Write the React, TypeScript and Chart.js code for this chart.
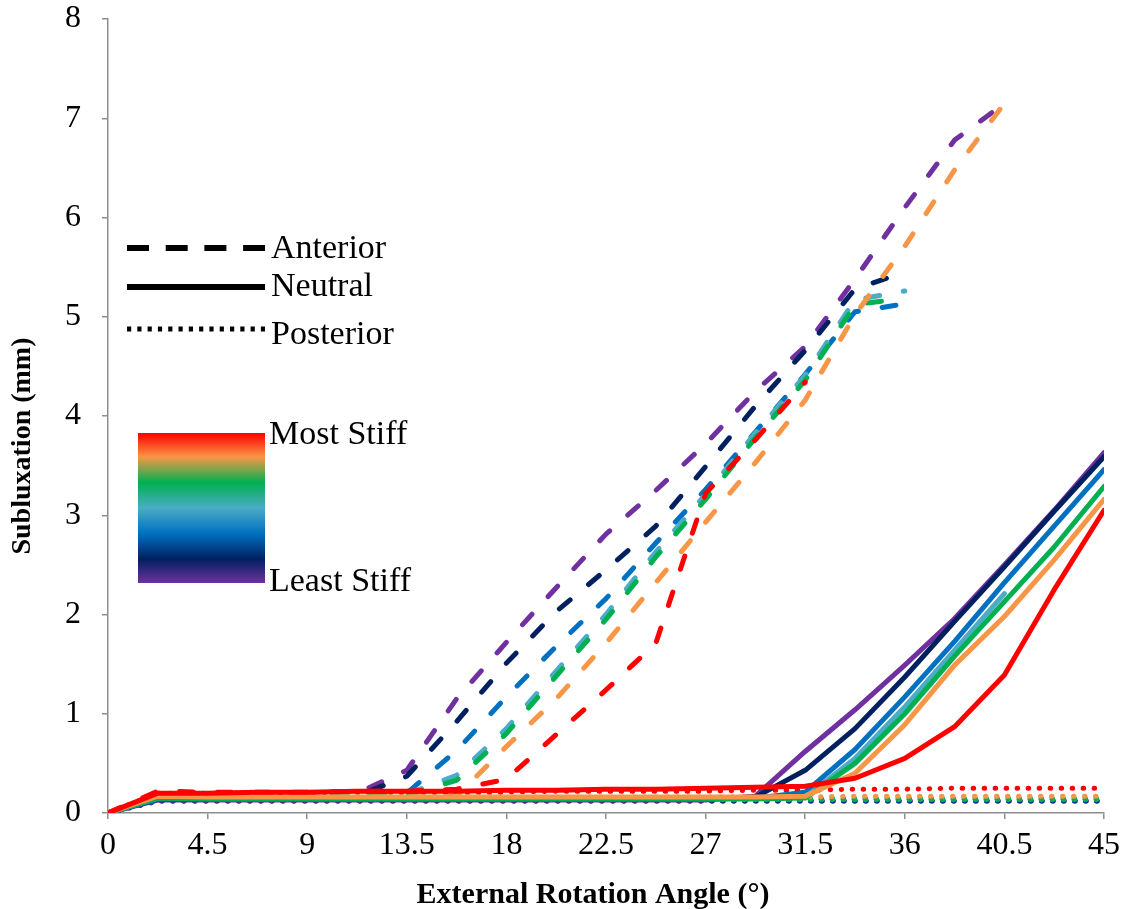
import React, { useEffect, useRef } from 'react';
import { Chart, registerables } from 'chart.js';

Chart.register(...registerables);

// ---------- data ----------
const ANGLES = [0, 2.25, 4.5, 6.75, 9, 11.25, 13.5, 15.75, 18, 20.25, 22.5, 24.75, 27, 29.25, 31.5, 33.75, 36, 38.25, 40.5, 42.75, 45];
const X_TICKS = [0, 4.5, 9, 13.5, 18, 22.5, 27, 31.5, 36, 40.5, 45];
const Y_TICKS = [0, 1, 2, 3, 4, 5, 6, 7, 8];

const STIFFNESS_NAMES = ['Red', 'Orange', 'Green', 'Teal', 'Blue', 'Navy', 'Purple'];
const COLORS = ['#FF0000', '#F79646', '#00B050', '#4BACC6', '#0070C0', '#002060', '#7030A0'];

// Neutral (solid)
const NEUTRAL_RED = [0, 0.20, 0.20, 0.21, 0.21, 0.22, 0.22, 0.22, 0.23, 0.23, 0.24, 0.24, 0.25, 0.26, 0.27, 0.35, 0.55, 0.87, 1.39, 2.25, 3.05];
const NEUTRAL_ORANGE = [0, 0.17, 0.16, 0.16, 0.16, 0.16, 0.16, 0.16, 0.16, 0.16, 0.16, 0.16, 0.16, 0.16, 0.17, 0.40, 0.89, 1.49, 1.98, 2.55, 3.16];
const NEUTRAL_GREEN = [0, 0.15, 0.14, 0.14, 0.14, 0.14, 0.14, 0.14, 0.14, 0.14, 0.14, 0.14, 0.14, 0.14, 0.15, 0.50, 1.00, 1.58, 2.13, 2.68, 3.29];
const NEUTRAL_TEAL = [0, 0.15, 0.15, 0.15, 0.15, 0.15, 0.15, 0.15, 0.15, 0.15, 0.15, 0.15, 0.15, 0.15, 0.16, 0.55, 1.07, 1.64, 2.21, null, null];
const NEUTRAL_BLUE = [0, 0.14, 0.14, 0.14, 0.14, 0.14, 0.14, 0.14, 0.14, 0.14, 0.14, 0.14, 0.14, 0.15, 0.21, 0.64, 1.17, 1.73, 2.32, 2.89, 3.46];
const NEUTRAL_NAVY = [0, 0.14, 0.14, 0.14, 0.14, 0.14, 0.14, 0.14, 0.14, 0.14, 0.14, 0.14, 0.14, 0.16, 0.43, 0.85, 1.37, 1.93, 2.48, 3.04, 3.59];
const NEUTRAL_PURPLE = [0, 0.13, 0.13, 0.13, 0.13, 0.13, 0.13, 0.13, 0.13, 0.13, 0.13, 0.13, 0.13, 0.17, 0.62, 1.04, 1.49, 1.96, 2.50, 3.05, 3.63];

// Anterior (dashed)
const ANTERIOR_RED = [0, 0.22, 0.21, 0.21, 0.21, 0.22, 0.22, 0.24, 0.34, 0.79, 1.24, 1.71, 3.22, 3.76, 4.34, null, null, null, null, null, null];
const ANTERIOR_ORANGE = [0, 0.17, 0.16, 0.16, 0.16, 0.16, 0.16, 0.17, 0.67, 1.15, 1.71, 2.32, 2.93, 3.53, 4.16, 5.02, 5.71, 6.48, 7.15, null, null];
const ANTERIOR_GREEN = [0, 0.18, 0.18, 0.18, 0.18, 0.18, 0.18, 0.33, 0.80, 1.38, 1.95, 2.58, 3.16, 3.78, 4.36, 5.12, 5.19, null, null, null, null];
const ANTERIOR_TEAL = [0, 0.19, 0.19, 0.19, 0.19, 0.19, 0.19, 0.38, 0.85, 1.43, 2.00, 2.63, 3.21, 3.83, 4.41, 5.17, 5.26, null, null, null, null];
const ANTERIOR_BLUE = [0, 0.18, 0.18, 0.18, 0.18, 0.18, 0.20, 0.63, 1.17, 1.68, 2.16, 2.72, 3.26, 3.84, 4.42, 5.05, 5.13, null, null, null, null];
const ANTERIOR_NAVY = [0, 0.17, 0.17, 0.17, 0.17, 0.17, 0.37, 0.92, 1.51, 2.03, 2.45, 2.89, 3.49, 4.10, 4.66, 5.28, 5.45, null, null, null, null];
const ANTERIOR_PURPLE = [0, 0.20, 0.20, 0.20, 0.20, 0.20, 0.43, 1.15, 1.72, 2.27, 2.81, 3.25, 3.72, 4.25, 4.70, 5.38, 6.10, 6.78, 7.15, null, null];

// Posterior (dotted)
const POSTERIOR_RED = [0, 0.20, 0.20, 0.20, 0.20, 0.21, 0.21, 0.21, 0.21, 0.22, 0.22, 0.22, 0.22, 0.23, 0.23, 0.24, 0.24, 0.25, 0.25, 0.25, 0.25];
const POSTERIOR_ORANGE = [0, 0.16, 0.16, 0.16, 0.16, 0.16, 0.16, 0.16, 0.16, 0.16, 0.16, 0.16, 0.16, 0.16, 0.16, 0.17, 0.17, 0.17, 0.17, 0.17, 0.17];
const POSTERIOR_GREEN = [0, 0.14, 0.14, 0.14, 0.14, 0.14, 0.14, 0.14, 0.14, 0.14, 0.14, 0.14, 0.14, 0.14, 0.14, 0.14, 0.14, 0.14, 0.14, 0.14, 0.14];
const POSTERIOR_TEAL = [0, 0.14, 0.14, 0.14, 0.14, 0.14, 0.14, 0.14, 0.14, 0.14, 0.14, 0.14, 0.14, 0.14, 0.14, 0.14, 0.14, 0.14, 0.14, 0.14, 0.14];
const POSTERIOR_BLUE = [0, 0.13, 0.13, 0.13, 0.13, 0.13, 0.13, 0.13, 0.13, 0.13, 0.13, 0.13, 0.13, 0.13, 0.13, 0.13, 0.13, 0.13, 0.13, 0.13, 0.13];
const POSTERIOR_NAVY = [0, 0.12, 0.12, 0.12, 0.12, 0.12, 0.12, 0.12, 0.12, 0.12, 0.12, 0.12, 0.12, 0.12, 0.12, 0.12, 0.12, 0.12, 0.12, 0.12, 0.12];
const POSTERIOR_PURPLE = [0, 0.12, 0.12, 0.12, 0.12, 0.12, 0.12, 0.12, 0.12, 0.12, 0.12, 0.12, 0.12, 0.12, 0.12, 0.12, 0.12, 0.12, 0.12, 0.12, 0.12];

const NEUTRAL = [NEUTRAL_RED, NEUTRAL_ORANGE, NEUTRAL_GREEN, NEUTRAL_TEAL, NEUTRAL_BLUE, NEUTRAL_NAVY, NEUTRAL_PURPLE];
const ANTERIOR = [ANTERIOR_RED, ANTERIOR_ORANGE, ANTERIOR_GREEN, ANTERIOR_TEAL, ANTERIOR_BLUE, ANTERIOR_NAVY, ANTERIOR_PURPLE];
const POSTERIOR = [POSTERIOR_RED, POSTERIOR_ORANGE, POSTERIOR_GREEN, POSTERIOR_TEAL, POSTERIOR_BLUE, POSTERIOR_NAVY, POSTERIOR_PURPLE];

const LEGEND_STYLES = ['Anterior', 'Neutral', 'Posterior'];
const STIFF_LABELS = ['Most Stiff', 'Least Stiff'];
const X_TITLE = 'External Rotation Angle (°)';
const Y_TITLE = 'Subluxation (mm)';

const SERIF = '"Liberation Serif", "Times New Roman", serif';
const AXIS_GRAY = '#8E8E8E';

function toPoints(arr: (number | null)[]) {
  const pts: { x: number; y: number }[] = [];
  arr.forEach((v, i) => {
    if (v !== null) pts.push({ x: ANGLES[i], y: v });
  });
  return pts;
}

function makeSets(group: (number | null)[][], styleName: string, dash: number[]) {
  return group.map((arr, i) => ({
    label: `${styleName} ${STIFFNESS_NAMES[i]}`,
    data: toPoints(arr),
    borderColor: COLORS[i],
    backgroundColor: COLORS[i],
    borderWidth: 5,
    borderDash: dash,
    borderCapStyle: 'round' as const,
    borderJoinStyle: 'round' as const,
    pointRadius: 0,
    pointHoverRadius: 0,
    tension: 0,
    fill: false,
    spanGaps: false,
  }));
}

const overlayPlugin = {
  id: 'overlay',
  afterDraw(chart: any) {
    const ctx: CanvasRenderingContext2D = chart.ctx;
    ctx.save();
    // line-style legend
    const rows = [
      { y: 248, dash: [22, 16.7], w: 6 },
      { y: 287, dash: [], w: 6 },
      { y: 329, dash: [4.2, 6.1], w: 5 },
    ];
    const textY = [258, 296, 344];
    rows.forEach((r, i) => {
      ctx.beginPath();
      ctx.setLineDash(r.dash);
      ctx.lineCap = 'butt';
      ctx.lineWidth = r.w;
      ctx.strokeStyle = '#000';
      ctx.moveTo(127, r.y);
      ctx.lineTo(265, r.y);
      ctx.stroke();
      ctx.setLineDash([]);
      ctx.font = `34px ${SERIF}`;
      ctx.fillStyle = '#000';
      ctx.textAlign = 'left';
      ctx.textBaseline = 'alphabetic';
      ctx.fillText(LEGEND_STYLES[i], 271, textY[i]);
    });

    // stiffness gradient
    const g = ctx.createLinearGradient(0, 433, 0, 583);
    const stops = [0, 0.16, 0.33, 0.5, 0.67, 0.84, 1];
    COLORS.forEach((c, i) => g.addColorStop(stops[i], c));
    ctx.fillStyle = g;
    ctx.fillRect(138, 433, 127, 150);
    ctx.fillStyle = '#000';
    ctx.font = `34px ${SERIF}`;
    ctx.fillText(STIFF_LABELS[0], 269, 444);
    ctx.fillText(STIFF_LABELS[1], 269, 591);

    // axis titles
    ctx.font = `bold 30px ${SERIF}`;
    ctx.textAlign = 'center';
    ctx.fillText(X_TITLE, 593, 903);
    ctx.translate(23, 446);
    ctx.rotate(-Math.PI / 2);
    ctx.font = `bold 28px ${SERIF}`;
    ctx.textBaseline = 'middle';
    ctx.fillText(Y_TITLE, 0, 0);
    ctx.restore();
  },
};

export default function App() {
  const canvasRef = useRef<HTMLCanvasElement | null>(null);

  useEffect(() => {
    const canvas = canvasRef.current;
    if (!canvas) return;
    const datasets = [
      ...makeSets(NEUTRAL, 'Neutral', []),
      ...makeSets(ANTERIOR, 'Anterior', [14, 24]),
      ...makeSets(POSTERIOR, 'Posterior', [0.5, 10.5]),
    ];
    const chart = new Chart(canvas, {
      type: 'line',
      data: { datasets },
      options: {
        responsive: false,
        maintainAspectRatio: false,
        animation: false,
        events: [],
        layout: { padding: { left: 0, right: 24, top: 19, bottom: 0 } },
        plugins: {
          legend: { display: false },
          tooltip: { enabled: false },
          title: { display: false },
        },
        scales: {
          x: {
            type: 'linear',
            position: 'bottom',
            min: 0,
            max: 45,
            afterFit: (s: any) => {
              s.height = 96;
              s.paddingLeft = 0;
              s.paddingRight = 0;
              s.paddingTop = 0;
              s.paddingBottom = 0;
            },
            afterBuildTicks: (s: any) => {
              s.ticks = X_TICKS.map((value) => ({ value }));
            },
            ticks: {
              autoSkip: false,
              maxRotation: 0,
              padding: 7,
              color: '#000',
              font: { family: SERIF, size: 32 },
              callback: (v: any) => String(v),
            },
            grid: {
              display: true,
              drawOnChartArea: false,
              drawTicks: true,
              tickLength: 6,
              color: AXIS_GRAY,
              lineWidth: 1.5,
            },
            border: { display: true, color: AXIS_GRAY, width: 1.5 },
          },
          y: {
            type: 'linear',
            min: 0,
            max: 8,
            afterFit: (s: any) => {
              s.width = 108;
              s.paddingTop = 0;
              s.paddingBottom = 0;
              s.paddingLeft = 0;
              s.paddingRight = 0;
            },
            afterBuildTicks: (s: any) => {
              s.ticks = Y_TICKS.map((value) => ({ value }));
            },
            ticks: {
              autoSkip: false,
              padding: 21,
              color: '#000',
              font: { family: SERIF, size: 32 },
              callback: (v: any) => String(v),
            },
            grid: {
              display: true,
              drawOnChartArea: false,
              drawTicks: true,
              tickLength: 6,
              color: AXIS_GRAY,
              lineWidth: 1.5,
            },
            border: { display: true, color: AXIS_GRAY, width: 1.5 },
          },
        },
      },
      plugins: [overlayPlugin],
    } as any);
    return () => chart.destroy();
  }, []);

  return (
    <div style={{ position: 'absolute', left: 0, top: 0, width: 1128, height: 909, background: '#fff' }}>
      <canvas ref={canvasRef} width={1128} height={909} style={{ display: 'block', width: 1128, height: 909 }} />
    </div>
  );
}
